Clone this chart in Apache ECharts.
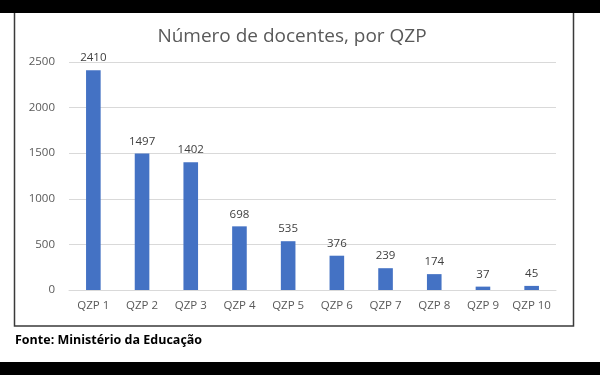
<!DOCTYPE html>
<html><head><meta charset="utf-8">
<script src="https://cdn.jsdelivr.net/npm/echarts@6/dist/echarts.min.js"></script>
<style>html,body{margin:0;padding:0;background:#fff}#c{width:600px;height:375px}</style>
</head><body><div id="c"></div>
<script>
var categories = ['QZP 1','QZP 2','QZP 3','QZP 4','QZP 5','QZP 6','QZP 7','QZP 8','QZP 9','QZP 10'];
var values = [2410,1497,1402,698,535,376,239,174,37,45];
var yTicks = [0,500,1000,1500,2000,2500];
var titleText = 'Número de docentes, por QZP';
var sourceText = 'Fonte: Ministério da Educação';

var chart = echarts.init(document.getElementById('c'), null, {renderer:'canvas'});
var font = '"Open Sans", "Liberation Sans", sans-serif';
chart.setOption({
  animation:false,
  backgroundColor:'#fff',
  textStyle:{fontFamily:font},
  title:{text:titleText,left:287,top:22,textAlign:'center',
    textStyle:{fontFamily:font,fontSize:19,fontWeight:'normal',color:'#595959'}},
  grid:{left:69,right:44,top:62,bottom:85},
  xAxis:{type:'category',data:categories,
    axisLine:{lineStyle:{color:'#d9d9d9'}},axisTick:{show:false},
    axisLabel:{color:'#595959',fontSize:11.5,margin:10,fontFamily:font,interval:0,hideOverlap:false}},
  yAxis:{type:'value',min:yTicks[0],max:yTicks[yTicks.length-1],interval:yTicks[1]-yTicks[0],
    axisLine:{show:false},axisTick:{show:false},
    splitLine:{lineStyle:{color:'#d9d9d9'}},
    axisLabel:{color:'#595959',fontSize:11.5,margin:14,fontFamily:font,formatter:function(v){return String(v);}}},
  series:[{type:'bar',data:values,barWidth:'30%',
    itemStyle:{color:'#4472C4'},
    label:{show:true,position:'top',distance:6,color:'#404040',fontSize:11.5,fontFamily:font}}],
  graphic:[
    {type:'rect',shape:{x:0,y:0,width:600,height:13},style:{fill:'#000'},z:100},
    {type:'rect',shape:{x:0,y:362,width:600,height:13},style:{fill:'#000'},z:100},
    {type:'rect',shape:{x:14.5,y:10,width:559,height:316},style:{fill:'none',stroke:'#3a3a3a',lineWidth:1.5},z:90},
    {type:'text',left:15,top:334,style:{text:sourceText,fill:'#000',font:'bold 12.5px '+font},z:100}
  ]
});
</script></body></html>
